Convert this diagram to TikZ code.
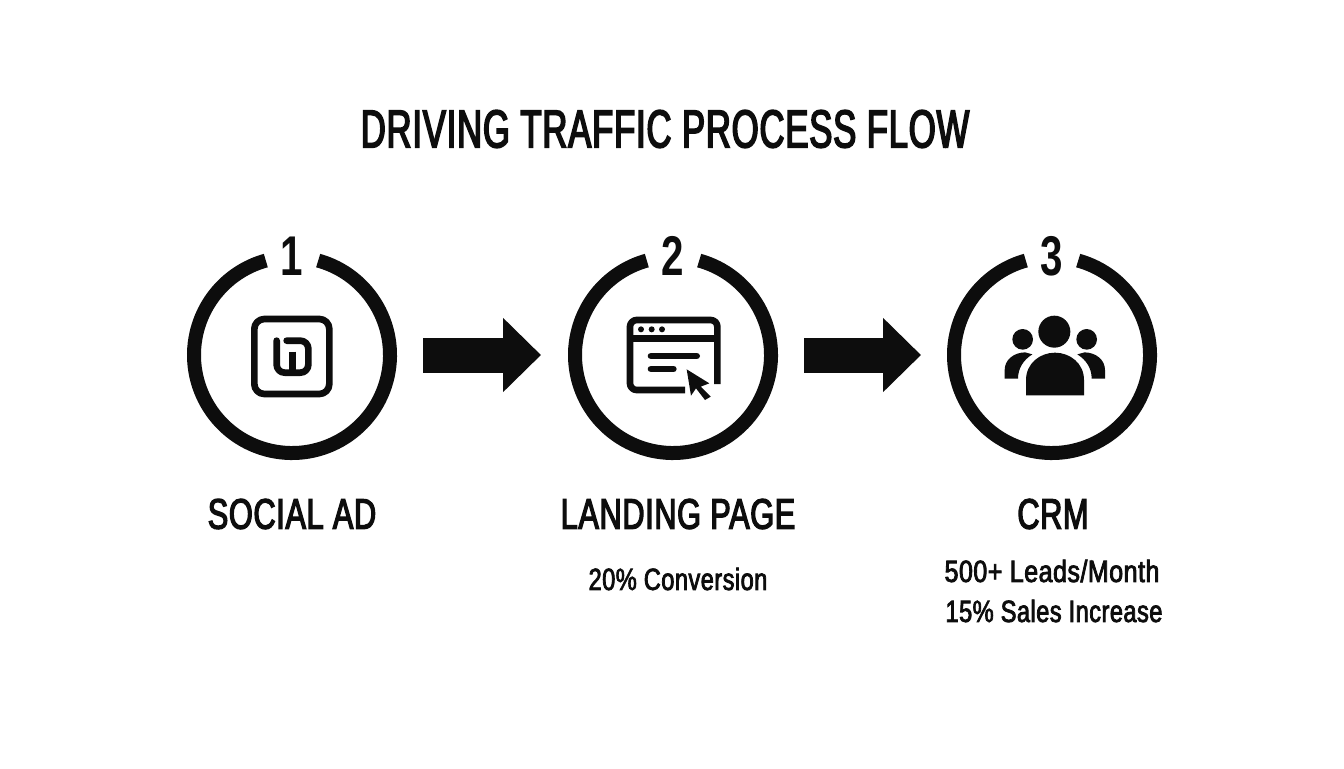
\documentclass[tikz,border=0pt]{standalone}
\usepackage{fontspec}
\usetikzlibrary{arrows.meta}
\setmainfont{Liberation Sans}
\newfontfamily\titlef[FakeStretch=0.65,FakeBold=3,LetterSpace=1.5]{Liberation Sans}
\newfontfamily\headf[FakeStretch=0.72,FakeBold=3,LetterSpace=1.5]{Liberation Sans}
\newfontfamily\subf[FakeStretch=0.77,FakeBold=2.5,LetterSpace=1.5]{Liberation Sans}
\newfontfamily\numf[FakeStretch=0.72]{Liberation Sans}
\definecolor{ink}{HTML}{0D0D0D}
\tikzset{
 x=0.75pt,y=-0.75pt,
 ring/.style={draw=ink,line width=10.5pt,line cap=butt},
 num/.style={text=ink,font=\numf\bfseries\fontsize{42}{42}\selectfont,inner sep=0,anchor=center},
 ttl/.style={text=ink,font=\titlef\fontsize{40}{40}\selectfont,inner sep=0,anchor=center},
 head/.style={text=ink,font=\headf\fontsize{32}{32}\selectfont,inner sep=0,anchor=center},
 sub/.style={text=ink,font=\subf\fontsize{23}{23}\selectfont,inner sep=0,anchor=center},
 flow/.style={draw=ink,line width=26.25pt,-{Triangle[length=28.5pt,width=54pt]}},
 ico/.style={draw=ink,line width=5pt,line cap=round,line join=round},
 zoomed/.style={x=0.25pt,y=-0.25pt},
}
\begin{document}
\begin{tikzpicture}
\useasboundingbox[fill=white] (0,0) rectangle (1344,768);
\node[ttl] (title) at (665,129) {DRIVING TRAFFIC PROCESS FLOW};
% centres
\coordinate (c1) at (292,355);
\coordinate (c2) at (673,355);
\coordinate (c3) at (1052,355);
\foreach \c in {c1,c2,c3}{
 \draw[ring] (\c) ++(-74.5:98) arc[start angle=-74.5,end angle=254.5,radius=98];
}
\node[num] (n1) at (292,256) {1};
\node[num] (n2) at (673,256) {2};
\node[num] (n3) at (1052,256) {3};
% arrows
\coordinate (a1s) at (423,355);\coordinate (a1e) at (541,355);
\coordinate (a2s) at (804,355);\coordinate (a2e) at (921,355);
\draw[flow] (a1s) -- (a1e);
\draw[flow] (a2s) -- (a2e);
% icon 1
\begin{scope}[shift={(170,220)},zoomed]
 \draw[ico,rounded corners=7.5pt] (253,297) rectangle (478,522);
 \draw[ico,rounded corners=6pt] (320,362) -- (320,458) -- (415,458) -- (415,362) -- (350,362);
 \draw[ico,line cap=butt] (367,395) -- (367,458);
\end{scope}
% icon 2
\begin{scope}[shift={(560,220)},zoomed]
 \draw[ico,rounded corners=5pt,line cap=butt] (375,510) -- (210,510) -- (210,300) -- (472,300) -- (472,492);
 \draw[ico,line cap=butt] (210,355) -- (472,355);
 \fill[ink] (243,328) circle[radius=9] (275,328) circle[radius=9] (306,328) circle[radius=9];
 \draw[ico] (273,408) -- (410,408);
 \draw[ico] (273,447) -- (340,447);
 \fill[ink] (380,448) -- (448,490) -- (422,500) -- (452,530) -- (435,540) -- (408,505) -- (393,527) -- cycle;
\end{scope}
% icon 3
\begin{scope}[shift={(930,220)},zoomed]
 \fill[ink] (373,335) circle[radius=48];
 \fill[ink] (278,358) circle[radius=31];
 \fill[ink] (470,358) circle[radius=31];
 \fill[ink] (288,526) -- (288,480) .. controls (288,430) and (330,398) .. (375,398) .. controls (420,398) and (462,430) .. (462,480) -- (462,526) -- cycle;
 \fill[ink] (224,476) -- (224,450) .. controls (224,420) and (250,398) .. (285,397) -- (307,403) .. controls (280,420) and (264,445) .. (264,476) -- cycle;
 \fill[ink] (525,476) -- (525,450) .. controls (525,420) and (499,398) .. (464,397) -- (442,403) .. controls (469,420) and (485,445) .. (485,476) -- cycle;
\end{scope}
% labels
\node[head] (l1) at (292,514) {SOCIAL AD};
\node[head] (l2) at (678,514) {LANDING PAGE};
\node[head] (l3) at (1053,514) {CRM};
\node[sub] (s2) at (678,579) {20\% Conversion};
\node[sub,xscale=1.06] (s3a) at (1052,571) {500+ Leads/Month};
\node[sub] (s3b) at (1054,611) {15\% Sales Increase};
\end{tikzpicture}
\end{document}
